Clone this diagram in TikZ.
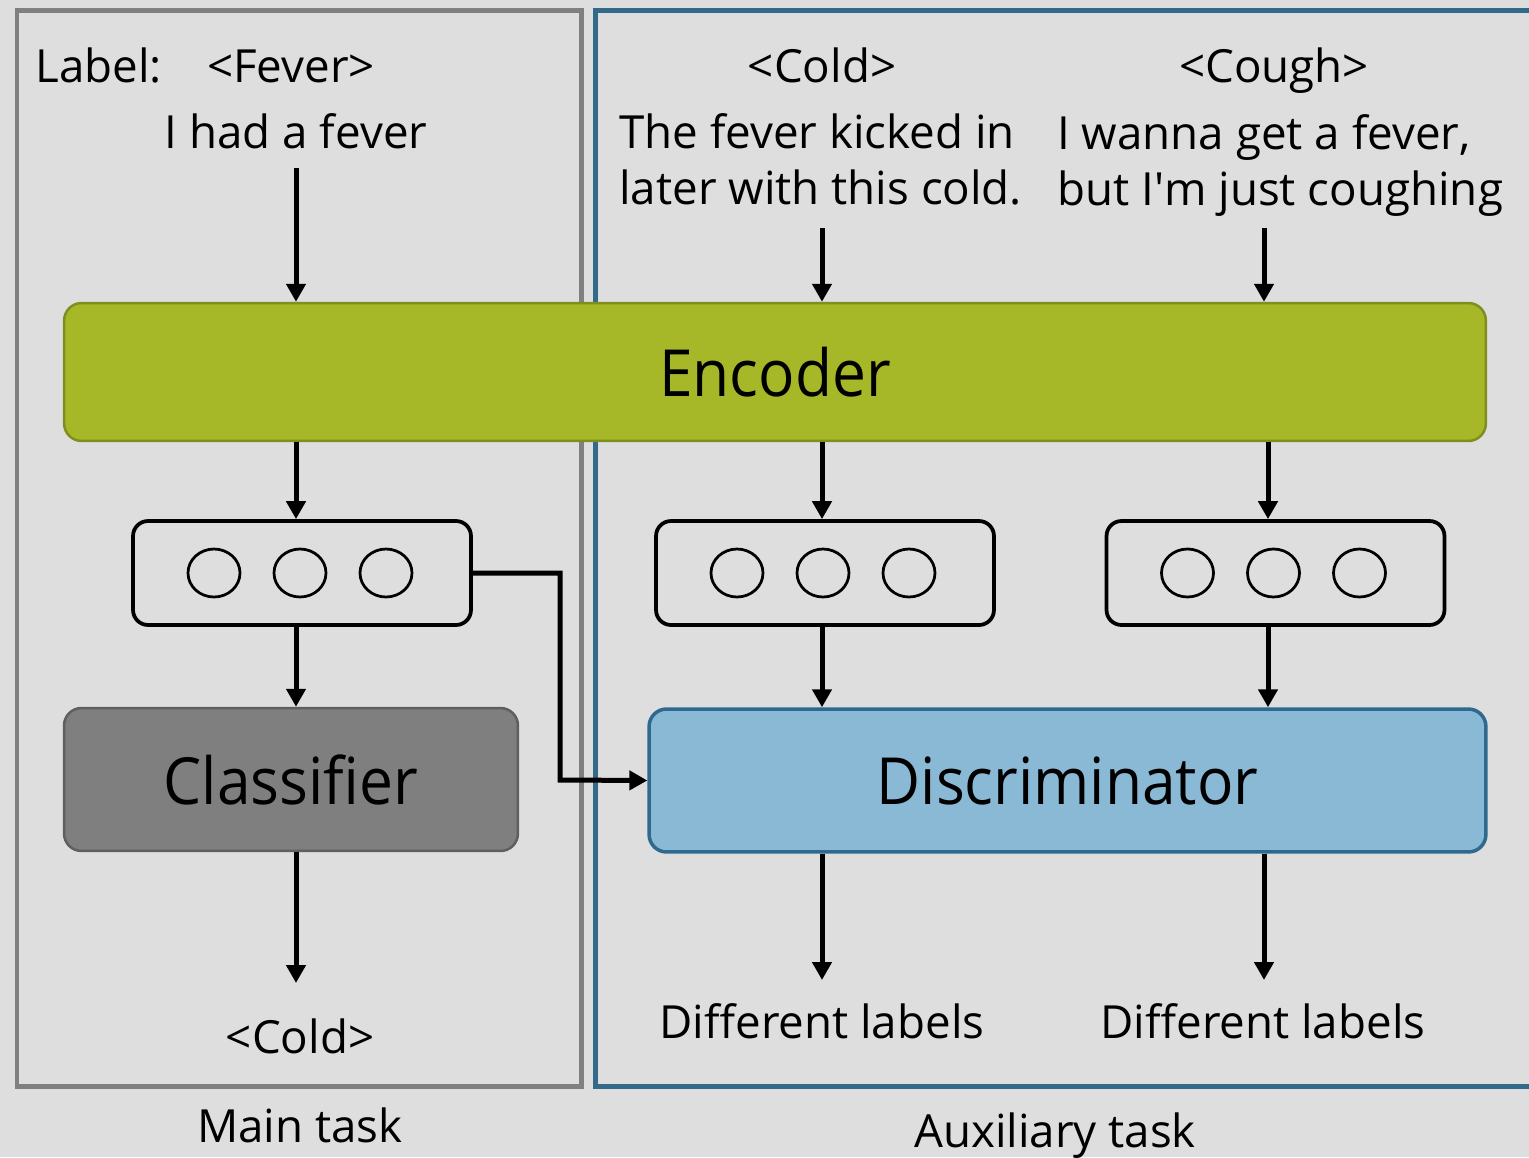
\documentclass[tikz,border=0pt]{standalone}
\usepackage{fontspec}
\setmainfont{Open Sans}
\newfontfamily\bigfont{Open Sans}[FakeStretch=0.93]
\usetikzlibrary{arrows.meta,calc,shapes.geometric}
\definecolor{bgc}{HTML}{DEDEDE}
\definecolor{mainc}{HTML}{808080}
\definecolor{auxc}{HTML}{336A89}
\definecolor{encf}{HTML}{A6B728}
\definecolor{encd}{HTML}{7F8F1E}
\definecolor{clsf}{HTML}{7F7F7F}
\definecolor{clsd}{HTML}{5F5F5F}
\definecolor{disf}{HTML}{8AB9D5}
\definecolor{disd}{HTML}{2F6A8E}
\tikzset{
  txt/.style={inner sep=0pt, anchor=base, font=\fontsize{26}{31.5}\selectfont},
  big/.style={font=\bigfont\fontsize{37}{44}\selectfont},
  arr/.style={line width=0.1cm, -{Triangle[length=0.36cm,width=0.38cm]}},
  vecbox/.style={draw=black, line width=0.075cm, rounded corners=0.3cm, minimum width=6.76cm, minimum height=2.08cm},
  unit/.style={draw=black, line width=0.055cm, ellipse, minimum width=1.04cm, minimum height=0.96cm, inner sep=0pt},
  block/.style={rounded corners=0.35cm, line width=0.05cm, minimum height=2.86cm, big}
}
\begin{document}
\begin{tikzpicture}[x=0.02cm,y=-0.02cm]
\fill[bgc] (0,0) rectangle (1529,1157);
\useasboundingbox (0,0) rectangle (1529,1157);
% task frames
\draw[mainc, line width=0.1cm] (17,10) rectangle (581,1086);
\draw[auxc, line width=0.1cm] (595,10) rectangle (1545,1086);
% encoder
\node[block, draw=encd, fill=encf, minimum width=28.44cm, minimum height=2.76cm] (enc) at (775,372) {Encoder};
% texts top
\node[txt, anchor=base west] (lab) at (35,82) {Label:};
\node[txt] (fev) at (291,82) {<Fever>};
\node[txt] (t1) at (296,148) {I had a fever};
\node[txt] (cold) at (822,82) {<Cold>};
\node[txt] (cough) at (1274,82) {<Cough>};
\node[txt, align=left, anchor=base west] (t2) at (619,204) {The fever kicked in\\later with this cold.};
\node[txt, align=left, anchor=base west] (t3) at (1057,205) {I wanna get a fever,\\but I\textquotesingle m just coughing};
% encoder inputs
\coordinate (s1) at (296,168);
\coordinate (s2) at (822,228);
\coordinate (s3) at (1264,228);
\draw[arr] (s1) -- (enc.north -| s1);
\draw[arr] (s2) -- (enc.north -| s2);
\draw[arr] (s3) -- (enc.north -| s3);
% vector boxes
\node[vecbox] (v1) at (302,573) {};
\node[vecbox] (v2) at (825,573) {};
\node[vecbox] (v3) at (1275.5,573) {};
\foreach \v/\c in {v1/302, v2/825, v3/1275.5}{
  \node[unit] (\v a) at (\c-88,573) {};
  \node[unit] (\v b) at (\c-2,573) {};
  \node[unit] (\v c) at (\c+84,573) {};
}
\coordinate (x3) at (1268,0);
\draw[arr] (enc.south -| s1) -- (v1.north -| s1);
\draw[arr] (enc.south -| s2) -- (v2.north -| s2);
\draw[arr] (enc.south -| x3) -- (v3.north -| x3);
% classifier and discriminator
\node[block, draw=clsd, fill=clsf, minimum width=9.08cm] (cls) at (291,779.5) {Classifier};
\node[block, draw=disd, fill=disf, line width=0.07cm, minimum width=16.74cm] (dis) at (1067.5,780.5) {Discriminator};
\draw[arr] (v1.south -| s1) -- (cls.north -| s1);
\draw[arr] (v2.south -| s2) -- (dis.north -| s2);
\draw[arr] (v3.south -| x3) -- (dis.north -| x3);
\draw[arr] (v1.east) -- (560,573) -- (560,780) -- (dis.west);
% outputs
\node[txt] (ocold) at (300,1053) {<Cold>};
\node[txt] (dl1) at (822,1038) {Different labels};
\node[txt] (dl2) at (1263,1038) {Different labels};
\coordinate (o1) at (296,983);
\coordinate (o2) at (822,980);
\coordinate (o3) at (1264,980);
\draw[arr] (cls.south -| o1) -- (o1);
\draw[arr] (dis.south -| o2) -- (o2);
\draw[arr] (dis.south -| o3) -- (o3);
% captions
\node[txt] (mt) at (300,1142) {Main task};
\node[txt] (at) at (1055,1147) {Auxiliary task};
\end{tikzpicture}
\end{document}
